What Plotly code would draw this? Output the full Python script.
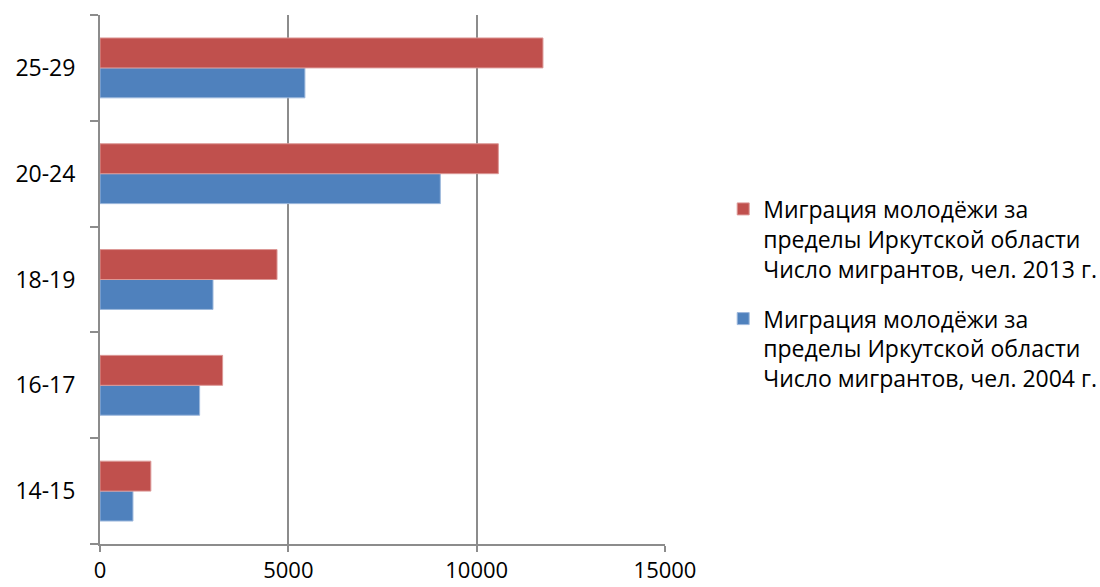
import plotly.graph_objects as go

# Age groups, bottom to top
age_groups = ["14-15", "16-17", "18-19", "20-24", "25-29"]

# Number of young migrants leaving Irkutsk region
migrants_2004 = [875, 2645, 3000, 9035, 5440]
migrants_2013 = [1350, 3255, 4700, 10575, 11760]

name_2013 = "Миграция молодёжи за<br>пределы Иркутской области<br>Число мигрантов, чел. 2013 г."
name_2004 = "Миграция молодёжи за<br>пределы Иркутской области<br>Число мигрантов, чел. 2004 г."

x_ticks = [0, 5000, 10000, 15000]

FONT = "Open Sans"
GRID = "#8c8c8c"

fig = go.Figure()
fig.add_trace(go.Bar(
    y=age_groups, x=migrants_2004, orientation="h", name=name_2004,
    legendgroup="g2004", legendrank=2,
    marker=dict(color="#4F81BD", line=dict(color="#9db8dc", width=1)),
))
fig.add_trace(go.Bar(
    y=age_groups, x=migrants_2013, orientation="h", name=name_2013,
    legendgroup="g2013", legendrank=1,
    marker=dict(color="#C0504D", line=dict(color="#dc9896", width=1)),
))

fig.update_layout(
    width=1100, height=587,
    margin=dict(l=100, r=435, t=15, b=43, autoexpand=False),
    paper_bgcolor="white", plot_bgcolor="white",
    barmode="group", bargap=0.434, bargroupgap=0,
    font=dict(family=FONT, color="black"),
    showlegend=True,
    legend=dict(
        x=1.103, y=0.674, xanchor="left", yanchor="top",
        traceorder="grouped", tracegroupgap=17,
        valign="top",
        font=dict(family=FONT, size=23, color="black"),
        bgcolor="rgba(0,0,0,0)",
    ),
    xaxis=dict(
        range=[0, 15000], tickvals=x_ticks, ticktext=[str(v) for v in x_ticks],
        showgrid=True, gridcolor=GRID, gridwidth=2,
        showline=True, linecolor=GRID, linewidth=2,
        ticks="outside", ticklen=6, tickcolor=GRID, tickwidth=2,
        ticklabelstandoff=0, automargin=False,
        tickfont=dict(family=FONT, size=22, color="black"),
        zeroline=False, fixedrange=True,
    ),
    yaxis=dict(
        categoryorder="array", categoryarray=age_groups,
        showline=True, linecolor=GRID, linewidth=2,
        ticks="outside", ticklen=8, tickcolor=GRID, tickwidth=2,
        tickson="boundaries", showgrid=False,
        ticklabelstandoff=18, automargin=False,
        tickfont=dict(family=FONT, size=23, color="black"),
        fixedrange=True,
    ),
)

fig.write_html("out.html")
